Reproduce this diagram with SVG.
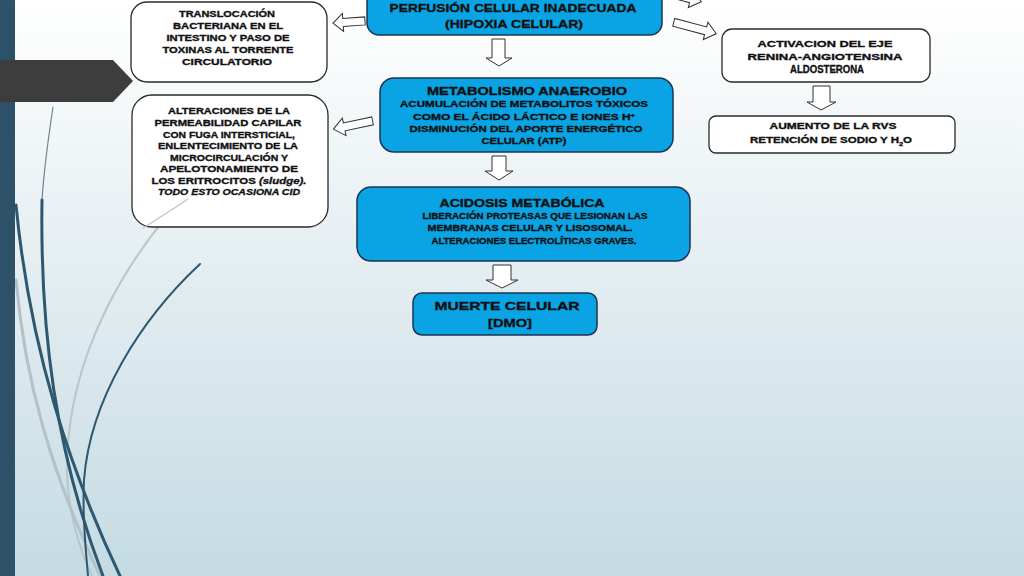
<svg xmlns="http://www.w3.org/2000/svg" width="1024" height="576" viewBox="0 0 1024 576">
<defs>
<linearGradient id="bg" x1="0" y1="0" x2="0" y2="1">
<stop offset="0" stop-color="#ffffff"/>
<stop offset="0.4" stop-color="#e8f0f3"/>
<stop offset="1" stop-color="#c4dbe3"/>
</linearGradient>
<style>
.blue{fill:#0aa3e4;stroke:#1d3550;stroke-width:1.5}
.white{fill:#ffffff;stroke:#2a2a2a;stroke-width:1.3}
.arr{fill:#ffffff;stroke:#333333;stroke-width:1}
text{font-family:"Liberation Sans",Arial,sans-serif;font-weight:bold;fill:#111111;stroke:#111111;stroke-width:0.35;text-anchor:middle}
.s{font-size:9.5px}
.m{font-size:10.5px}
.l{font-size:11.5px}
.it{font-style:italic}
.deco{fill:none;stroke-linecap:round}
</style>
</defs>
<rect x="0" y="0" width="1024" height="576" fill="url(#bg)"/>
<g id="decoration">
<path class="deco" d="M 200,180 C 120,260 70,360 67,460 C 66,510 80,550 92,576" stroke="#b9c5cb" stroke-width="2"/>
<path class="deco" d="M 16,280 C 25,380 50,470 100,576" stroke="#b3c2c9" stroke-width="3"/>
<path class="deco" d="M 53,107 C 48,140 44,170 42,200" stroke="#6f8594" stroke-width="1.2"/>
<path class="deco" d="M 42,200 C 40,330 55,450 103,576" stroke="#2e5870" stroke-width="3"/>
<path class="deco" d="M 16,205 C 30,350 70,470 120,576" stroke="#2e5870" stroke-width="3"/>
<path class="deco" d="M 200,264 C 140,320 90,400 84,480 C 82,520 86,550 88,576" stroke="#2e5870" stroke-width="2"/>
<rect x="0" y="0" width="15" height="576" fill="#2d5169"/>
<path d="M 0,60 L 113,60 L 133,81 L 113,102 L 0,102 Z" fill="#3d3d3d"/>
</g>
<g id="connectors">
<path class="arr" transform="translate(349,22) rotate(-4)" d="M -16,0 L -6,-9 L -6,-4 L 16,-4 L 16,4 L -6,4 L -6,9 Z"/>
<path class="arr" transform="translate(353,125) rotate(-12)" d="M -20,0 L -9,-9 L -9,-4 L 20,-4 L 20,4 L -9,4 L -9,9 Z"/>
<path class="arr" transform="translate(695,28) rotate(15)" d="M 22,0 L 11,-9 L 11,-4 L -22,-4 L -22,4 L 11,4 L 11,9 Z"/>
<path class="arr" transform="translate(680,-4) rotate(15)" d="M 22,0 L 11,-9 L 11,-4 L -22,-4 L -22,4 L 11,4 L 11,9 Z"/>
<path class="arr" d="M 492,39 L 505,39 L 505,58 L 512,58 L 499,66 L 486,58 L 492,58 Z"/>
<path class="arr" d="M 492,156 L 506,156 L 506,171 L 513,171 L 499,180 L 485,171 L 492,171 Z"/>
<path class="arr" d="M 493,265 L 511,265 L 511,280 L 518,280 L 502,288 L 486,280 L 493,280 Z"/>
<path class="arr" d="M 813,86 L 830,86 L 830,102 L 836,102 L 821,110 L 807,102 L 813,102 Z"/>
</g>
<g id="node-translocacion">
<rect class="white" x="131" y="2" width="196" height="80" rx="16"/>
<text class="s" x="227" y="16.5" textLength="96" lengthAdjust="spacingAndGlyphs">TRANSLOCACIÓN</text>
<text class="s" x="228" y="28.5" textLength="110" lengthAdjust="spacingAndGlyphs">BACTERIANA EN EL</text>
<text class="s" x="228" y="40.5" textLength="123" lengthAdjust="spacingAndGlyphs">INTESTINO Y PASO DE</text>
<text class="s" x="228" y="52.5" textLength="131" lengthAdjust="spacingAndGlyphs">TOXINAS AL TORRENTE</text>
<text class="s" x="227" y="64.5" textLength="90" lengthAdjust="spacingAndGlyphs">CIRCULATORIO</text>
</g>
<g id="node-perfusion">
<rect class="blue" x="367" y="-14" width="295" height="49" rx="12"/>
<text class="l" x="513" y="12" textLength="247" lengthAdjust="spacingAndGlyphs">PERFUSIÓN CELULAR INADECUADA</text>
<text class="l" x="514" y="28" textLength="138" lengthAdjust="spacingAndGlyphs">(HIPOXIA CELULAR)</text>
</g>
<g id="node-alteraciones">
<rect class="white" x="132" y="95" width="196" height="132" rx="20"/>
<text class="s" x="229" y="114" textLength="122" lengthAdjust="spacingAndGlyphs">ALTERACIONES DE LA</text>
<text class="s" x="228" y="126" textLength="147" lengthAdjust="spacingAndGlyphs">PERMEABILIDAD CAPILAR</text>
<text class="s" x="229" y="137.5" textLength="132" lengthAdjust="spacingAndGlyphs">CON FUGA INTERSTICIAL,</text>
<text class="s" x="228" y="149" textLength="140" lengthAdjust="spacingAndGlyphs">ENLENTECIMIENTO DE LA</text>
<text class="s" x="229" y="160.5" textLength="118" lengthAdjust="spacingAndGlyphs">MICROCIRCULACIÓN Y</text>
<text class="s" x="229" y="172" textLength="138" lengthAdjust="spacingAndGlyphs">APELOTONAMIENTO DE</text>
<text class="s" x="229" y="183.5" textLength="155" lengthAdjust="spacingAndGlyphs">LOS ERITROCITOS <tspan class="it">(sludge).</tspan></text>
<text class="s it" x="229" y="195" textLength="142" lengthAdjust="spacingAndGlyphs">TODO ESTO OCASIONA CID</text>
</g>
<g id="decoration-overlay">
<path class="deco" d="M 188,199 C 172,210 157,219 143,228" stroke="#b9c5cb" stroke-width="1.2"/>
</g>
<g id="node-metabolismo">
<rect class="blue" x="380" y="78" width="293" height="74" rx="14"/>
<text class="m" x="527" y="95" textLength="200" lengthAdjust="spacingAndGlyphs">METABOLISMO ANAEROBIO</text>
<text class="s" x="524" y="107" textLength="248" lengthAdjust="spacingAndGlyphs">ACUMULACIÓN DE METABOLITOS TÓXICOS</text>
<text class="s" x="524" y="120" textLength="222" lengthAdjust="spacingAndGlyphs">COMO EL ÁCIDO LÁCTICO E IONES H<tspan font-size="6" baseline-shift="super">+</tspan></text>
<text class="s" x="526" y="132" textLength="233" lengthAdjust="spacingAndGlyphs">DISMINUCIÓN DEL APORTE ENERGÉTICO</text>
<text class="s" x="524" y="144" textLength="85" lengthAdjust="spacingAndGlyphs">CELULAR (ATP)</text>
</g>
<g id="node-acidosis">
<rect class="blue" x="357" y="187" width="333" height="74" rx="14"/>
<text class="m" x="522" y="207" textLength="165" lengthAdjust="spacingAndGlyphs">ACIDOSIS  METABÓLICA</text>
<text class="s" x="535" y="218.5" textLength="225" lengthAdjust="spacingAndGlyphs">LIBERACIÓN PROTEASAS QUE LESIONAN LAS</text>
<text class="s" x="530" y="231" textLength="205" lengthAdjust="spacingAndGlyphs">MEMBRANAS  CELULAR Y LISOSOMAL.</text>
<text class="s" x="534" y="244" textLength="205" lengthAdjust="spacingAndGlyphs">ALTERACIONES ELECTROLÍTICAS GRAVES.</text>
</g>
<g id="node-muerte">
<rect class="blue" x="413" y="293" width="184" height="42" rx="9"/>
<text class="l" x="507" y="310" textLength="145" lengthAdjust="spacingAndGlyphs">MUERTE CELULAR</text>
<text class="l" x="510" y="327" textLength="44" lengthAdjust="spacingAndGlyphs">[DMO]</text>
</g>
<g id="node-activacion">
<rect class="white" x="722" y="29" width="208" height="53" rx="10"/>
<text class="s" x="825" y="47" textLength="135" lengthAdjust="spacingAndGlyphs">ACTIVACION DEL EJE</text>
<text class="s" x="825" y="59.5" textLength="155" lengthAdjust="spacingAndGlyphs">RENINA-ANGIOTENSINA</text>
<text x="827" y="72.5" font-size="10.5" textLength="74" lengthAdjust="spacingAndGlyphs">ALDOSTERONA</text>
</g>
<g id="node-aumento">
<rect class="white" x="709" y="116" width="246" height="37" rx="7"/>
<text class="s" x="833" y="129" textLength="127" lengthAdjust="spacingAndGlyphs">AUMENTO DE LA RVS</text>
<text class="s" x="831" y="143" textLength="162" lengthAdjust="spacingAndGlyphs">RETENCIÓN DE SODIO Y H<tspan font-size="6" baseline-shift="sub">2</tspan>O</text>
</g>
</svg>
